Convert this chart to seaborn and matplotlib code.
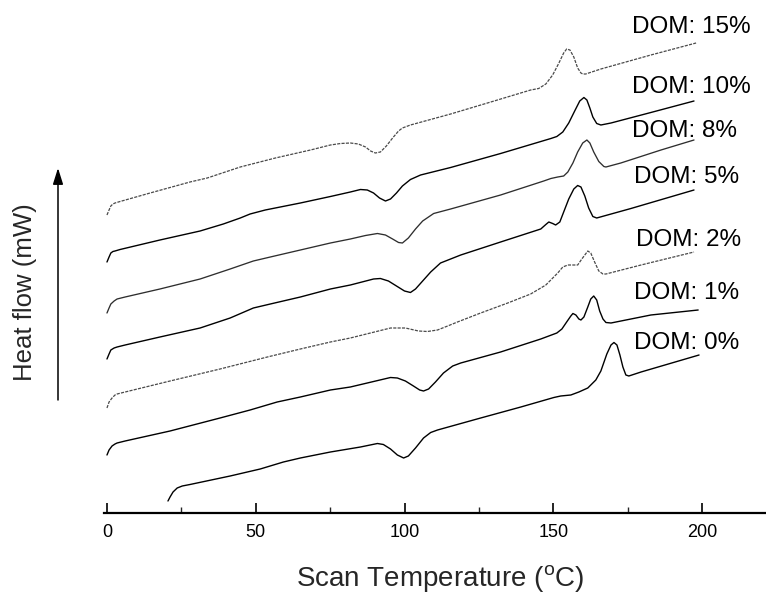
import matplotlib
matplotlib.use("Agg")
import matplotlib.pyplot as plt
import seaborn as sns
import pandas as pd

# ---------------- data (temperature in degC, heat flow in arbitrary units) ----------------
temp_15 = [0.0, 0.7, 1.3, 2.0, 2.7, 4.4, 14.5, 27.9, 33.7, 44.8, 56.6, 68.4, 75.1, 78.5, 81.8, 84.5,
           86.9, 88.6, 90.2, 91.9, 93.9, 96.0, 98.0, 99.3, 102.0, 115.5, 129.0, 142.4, 145.1, 147.5,
           149.8, 151.9, 153.5, 154.5, 155.6, 156.9, 158.2, 159.3, 159.9, 160.9, 166.0, 182.8, 198.0]
flow_15 = [298, 303, 307, 309, 310, 311.5, 320, 331, 335, 346, 355, 363, 368, 369.5, 370, 369,
           366, 362, 360, 361, 367, 375, 382, 385, 388, 399, 411, 423, 424.5, 429,
           438, 450, 460, 464, 463, 456, 445, 440, 439, 439, 444, 458, 470]

temp_10 = [0.0, 0.7, 1.3, 2.0, 2.7, 4.4, 17.8, 31.3, 39.1, 44.8, 48.1, 53.2, 65.0, 75.1, 81.8, 85.2,
           87.5, 89.6, 91.6, 93.6, 95.3, 97.3, 99.3, 102.0, 105.4, 115.5, 132.3, 149.2, 151.2, 153.2,
           155.2, 157.2, 158.9, 160.3, 161.3, 162.3, 163.3, 164.6, 166.0, 169.4, 182.8, 197.3]
flow_10 = [251, 256, 260, 261.5, 262, 263.5, 273, 282, 289, 295, 299, 303, 310, 316.5, 321, 323.5,
           323, 320, 315, 312, 314, 320, 327, 333.5, 338, 345.5, 359.5, 374.5, 376.5, 381,
           390, 402, 412, 415.5, 413, 405, 396, 389.5, 388, 390, 400.5, 412]

temp_8 = [0.0, 0.7, 1.3, 2.4, 3.4, 6.1, 17.8, 31.3, 41.4, 49.2, 54.9, 65.0, 75.1, 81.8, 86.9, 90.9,
          93.6, 96.0, 98.0, 99.3, 101.3, 103.7, 106.1, 109.8, 115.5, 132.3, 146.8, 149.2, 151.5, 153.5,
          154.9, 156.6, 158.2, 159.9, 161.3, 162.3, 163.6, 165.3, 167.0, 167.7, 172.7, 186.2, 197.3]
flow_8 = [200, 205, 209, 212, 214, 216, 224, 234, 244, 252, 256, 263, 270, 274, 277.5, 279.5,
          278, 274, 270.5, 270, 275, 284, 292, 299.5, 304, 318, 332, 334.5, 336, 337,
          341, 350, 361, 370, 373, 370, 361, 351.5, 346.5, 346, 350, 363, 373]

temp_5 = [0.0, 0.7, 1.3, 2.4, 3.4, 6.1, 17.8, 31.3, 41.4, 49.2, 54.9, 65.0, 75.1, 81.8, 89.6, 91.9,
          94.6, 97.3, 100.0, 102.0, 103.7, 106.1, 108.8, 112.1, 118.9, 132.3, 145.8, 147.5, 148.5, 149.8,
          150.8, 152.2, 153.5, 155.2, 156.9, 158.2, 159.3, 160.6, 161.9, 163.3, 164.6, 176.1, 197.3]
flow_5 = [154, 159, 163, 165, 166, 168, 176, 185, 195, 205, 209, 216, 224, 228, 234, 234.5,
          232, 227, 222, 220.5, 224, 232, 241, 250, 258, 271, 284, 288.5, 291, 289.5,
          288, 291, 301, 314, 324, 327.5, 326, 317, 305, 296.5, 295, 304.5, 323]

temp_2 = [0.0, 0.7, 1.7, 2.7, 3.4, 6.1, 21.2, 38.0, 53.9, 65.0, 75.1, 81.8, 95.3, 100.3, 104.7, 107.7,
          111.1, 114.5, 117.8, 125.6, 134.7, 142.4, 147.5, 151.5, 153.2, 154.9, 158.2, 159.6, 161.6, 162.6,
          163.9, 165.3, 166.7, 167.7, 179.5, 197.3]
flow_2 = [105, 111, 115, 118, 119, 121, 132, 144, 156, 164, 171, 175, 185, 185, 182, 181.5,
          183, 187, 191, 200, 210, 219, 228, 240, 246, 248, 248, 254, 262, 260,
          251, 242, 239, 239, 248, 261]

temp_1 = [0.0, 0.7, 1.7, 2.7, 3.4, 6.1, 21.2, 38.0, 48.1, 57.2, 65.0, 75.1, 81.8, 95.3, 97.6, 100.3,
          103.0, 105.1, 106.4, 108.1, 110.4, 113.1, 116.2, 118.9, 132.3, 145.8, 151.2, 152.9, 154.5, 155.9,
          156.6, 157.6, 158.6, 159.3, 160.3, 161.6, 162.6, 163.6, 164.6, 165.6, 166.7, 167.7, 169.4, 182.8,
          198.7]
flow_1 = [58, 63, 67, 69, 70, 72, 82, 95, 103, 111, 116, 123, 126, 135.5, 135, 132,
          127, 123, 122, 124, 131, 140, 147, 150, 161, 174, 180, 184, 191, 197,
          199.5, 198, 194, 193, 196, 206, 214, 217, 213, 202, 194, 190.5, 190, 198,
          203]

temp_0 = [20.5, 21.2, 22.2, 23.6, 25.3, 27.9, 41.4, 51.5, 59.3, 65.0, 75.1, 85.2, 90.9, 92.9, 95.3, 97.6,
          99.7, 101.3, 103.7, 106.4, 108.8, 111.1, 125.6, 139.1, 150.2, 152.5, 155.9, 158.6, 161.6, 164.3,
          166.0, 168.0, 169.4, 170.4, 171.4, 172.4, 173.4, 174.4, 175.4, 179.5, 199.0]
flow_0 = [12, 16, 21, 25, 27, 28.5, 37, 44, 51, 55, 61, 66, 69.5, 68.5, 64, 58,
          55, 57, 65, 75, 80.5, 83, 95, 106, 115.5, 117, 118, 121, 125, 133,
          142, 159, 168, 170.5, 168, 158, 146, 138, 137, 141, 158]

series_names = ["DOM: 15%", "DOM: 10%", "DOM: 8%", "DOM: 5%", "DOM: 2%", "DOM: 1%", "DOM: 0%"]
temps = [temp_15, temp_10, temp_8, temp_5, temp_2, temp_1, temp_0]
flows = [flow_15, flow_10, flow_8, flow_5, flow_2, flow_1, flow_0]
x_ticks = [0, 50, 100, 150, 200]

# ---------------- layout / style (separate from data) ----------------
label_x = [176.6, 176.6, 176.6, 177.2, 177.9, 177.2, 177.2]
label_y = [486, 426, 382, 336, 273, 220, 170]
line_styles = [
    dict(color="#4a4a4a", lw=0.9, linestyle=(0, (2.5, 1.0))),
    dict(color="black", lw=1.0, linestyle="-"),
    dict(color="#2e2e2e", lw=0.95, linestyle="-"),
    dict(color="black", lw=1.0, linestyle="-"),
    dict(color="#4a4a4a", lw=0.9, linestyle=(0, (2.5, 1.0))),
    dict(color="black", lw=1.0, linestyle="-"),
    dict(color="black", lw=1.0, linestyle="-"),
]

sns.set_theme(style="ticks")
plt.rcParams["font.family"] = ["Liberation Sans", "DejaVu Sans"]
plt.rcParams["mathtext.fontset"] = "custom"
plt.rcParams["mathtext.rm"] = "Liberation Sans"

fig = plt.figure(figsize=(7.66, 5.95), dpi=100)
ax = fig.add_axes([104 / 766, 1 - 513 / 595, 662 / 766, 513 / 595])

frames = []
for name, t, f in zip(series_names, temps, flows):
    frames.append(pd.DataFrame({"Temperature": t, "Heat flow": f, "DOM": name}))
df = pd.concat(frames, ignore_index=True)

for name, st in zip(series_names, line_styles):
    sub = df[df["DOM"] == name]
    sns.lineplot(data=sub, x="Temperature", y="Heat flow", ax=ax, estimator=None,
                 sort=False, legend=False, **st)

for name, lx, ly in zip(series_names, label_x, label_y):
    ax.text(lx, ly, name, fontsize=17.5, ha="left", va="center", color="black")

ax.set_xlim(-1.0, 221.5)
ax.set_ylim(0, 513)
ax.set_xticks(x_ticks)
ax.set_xticklabels([str(v) for v in x_ticks])
ax.set_xticks([25, 75, 125, 175], minor=True)
ax.set_yticks([])
ax.tick_params(axis="x", which="major", direction="in", length=7.5, width=1.2,
               labelsize=13, pad=8, colors="black")
ax.tick_params(axis="x", which="minor", direction="in", length=4.5, width=1.0)
for s in ["top", "right", "left"]:
    ax.spines[s].set_visible(False)
ax.spines["bottom"].set_linewidth(1.6)
ax.spines["bottom"].set_color("black")
ax.set_facecolor("white")

ax.set_xlabel(r"Scan Temperature ($^{\rm o}$C)", fontsize=20)
ax.xaxis.set_label_coords(336 / 662, (513 - 579) / 513)
ax.xaxis.label.set_verticalalignment("center")
ax.set_ylabel("Heat flow (mW)", fontsize=18.5)
ax.yaxis.set_label_coords((25 - 104) / 662, (513 - 292) / 513)
ax.yaxis.label.set_verticalalignment("center")

ax.annotate("", xy=(58, 595 - 168), xytext=(58, 595 - 400), xycoords="figure pixels",
            textcoords="figure pixels", annotation_clip=False,
            arrowprops=dict(arrowstyle="-|>,head_length=0.7,head_width=0.22",
                            color="black", lw=1.1, mutation_scale=14, shrinkA=0, shrinkB=0))

fig.savefig("out.png", dpi=100, facecolor="white")
